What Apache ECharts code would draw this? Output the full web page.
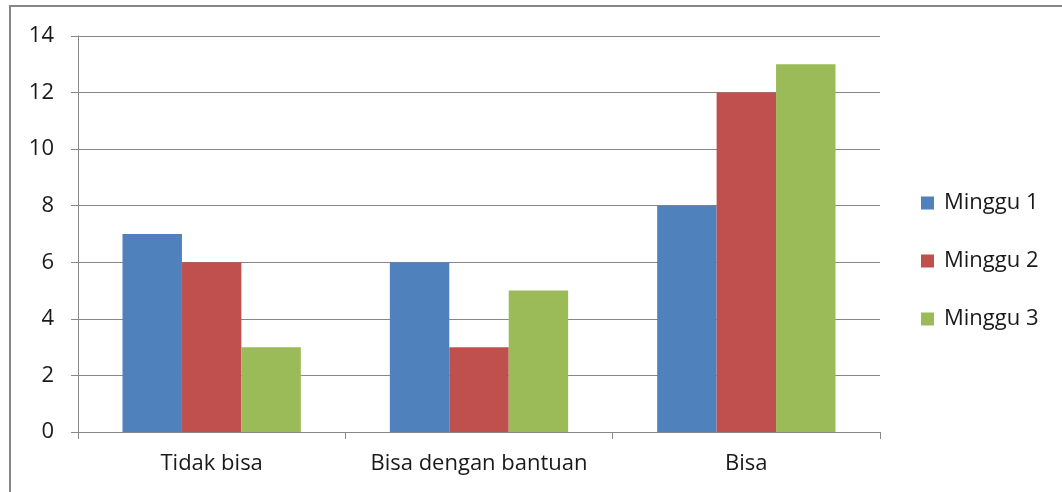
<!DOCTYPE html>
<html>
<head>
<meta charset="utf-8">
<script src="https://cdn.jsdelivr.net/npm/echarts@6/dist/echarts.min.js"></script>
<style>
  html, body { margin: 0; padding: 0; background: #fff; }
  #chart { width: 1062px; height: 492px; }
</style>
</head>
<body>
<div id="chart"></div>
<script>
// Categories and weekly counts
const categories = ['Tidak bisa', 'Bisa dengan bantuan', 'Bisa'];
const seriesNames = ['Minggu 1', 'Minggu 2', 'Minggu 3'];
const minggu1 = [7, 6, 8];
const minggu2 = [6, 3, 12];
const minggu3 = [3, 5, 13];
const yTicks = { min: 0, max: 14, step: 2 };

const colors = ['#4F81BD', '#C0504D', '#9BBB59'];
const fontFamily = '"Open Sans", "Noto Sans", sans-serif';
const gridColor = '#878787';
const textColor = '#1a1a1a';

const chart = echarts.init(document.getElementById('chart'), null, { renderer: 'canvas' });

const values = [minggu1, minggu2, minggu3];

chart.setOption({
  animation: false,
  backgroundColor: '#fff',
  color: colors,
  textStyle: { fontFamily: fontFamily },
  grid: { left: 78, right: 182, top: 36, bottom: 60, containLabel: false },
  legend: {
    orient: 'vertical',
    left: 921,
    top: 192,
    padding: 0,
    itemWidth: 13,
    itemHeight: 13,
    itemGap: 36,
    icon: 'rect',
    textStyle: { fontSize: 22, color: textColor, fontFamily: fontFamily, padding: [0, 0, 0, 5] },
    data: seriesNames
  },
  xAxis: {
    type: 'category',
    data: categories,
    axisLine: { lineStyle: { color: gridColor, width: 1 } },
    axisTick: { show: true, length: 7, lineStyle: { color: gridColor } },
    axisLabel: { interval: 0, hideOverlap: false, fontSize: 22, color: textColor, margin: 21, fontFamily: fontFamily }
  },
  yAxis: {
    type: 'value',
    min: yTicks.min,
    max: yTicks.max,
    interval: yTicks.step,
    axisLine: { show: true, lineStyle: { color: gridColor, width: 1 } },
    axisTick: { show: true, length: 7, lineStyle: { color: gridColor } },
    axisLabel: { fontSize: 22, color: textColor, margin: 24, fontFamily: fontFamily },
    splitLine: { lineStyle: { color: gridColor, width: 1 } }
  },
  series: seriesNames.map((name, i) => ({
    name: name,
    type: 'bar',
    data: values[i],
    barGap: '0%',
    barCategoryGap: '33.3%',
    itemStyle: { color: colors[i] }
  })),
  graphic: [
    {
      type: 'polyline',
      shape: { points: [[10, 492], [10, 6], [1062, 6]] },
      style: { stroke: '#868686', lineWidth: 2, fill: null },
      silent: true
    }
  ]
});
</script>
</body>
</html>
